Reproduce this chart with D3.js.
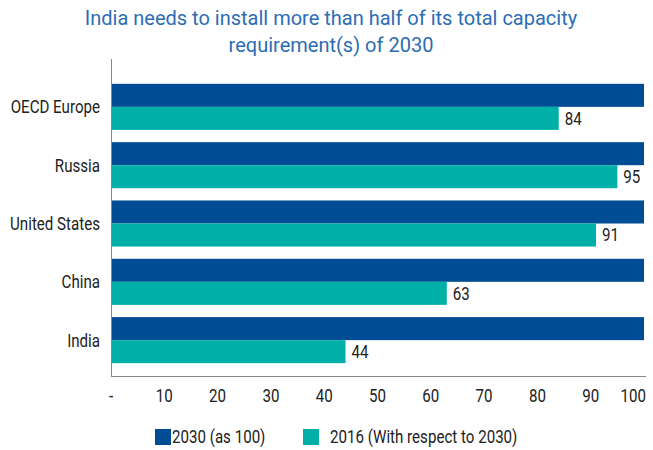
<!DOCTYPE html>
<html>
<head>
<meta charset="utf-8">
<script src="https://cdn.jsdelivr.net/npm/d3@7"></script>
<style>
  body { margin: 0; background: #fff; }
  text { font-family: "Roboto", "Liberation Sans", sans-serif; }
</style>
</head>
<body>
<script>
// Chart data
const regions = ["OECD Europe", "Russia", "United States", "China", "India"];
const values2030 = [100, 100, 100, 100, 100];
const values2016 = [84, 95, 91, 63, 44];
const xTicks = [0, 10, 20, 30, 40, 50, 60, 70, 80, 90, 100];
const seriesNames = ["2030 (as 100)", "2016 (With respect to 2030)"];
const colors = ["#004d95", "#00b0a8"];

const width = 653, height = 450;
// the original uses a condensed face, squeeze regular Roboto horizontally
const squeeze = 0.84;
const place = (px, py) => `translate(${px},${py}) scale(${squeeze},1)`;

const svg = d3.select("body")
      .append("svg")
      .attr("width", width)
      .attr("height", height);

// Title
svg.append("text")
    .attr("x", 331)
    .attr("y", 25)
    .attr("text-anchor", "middle")
    .style("font-size", "20px")
    .style("fill", "#2c6db4")
    .selectAll("tspan")
    .data(["India needs to install more than half of its total capacity", "requirement(s) of 2030"])
    .enter().append("tspan")
    .attr("x", 331)
    .attr("dy", (d, i) => i === 0 ? 0 : 27)
    .text(d => d);

// Scales
const x = d3.scaleLinear().domain([0, 100]).range([111, 644]);
const y = d3.scaleBand().domain(regions).range([78, 369])
      .paddingInner(0.21).paddingOuter(0.1);
const sub = d3.scaleBand().domain([0, 1]).range([0, y.bandwidth()]);

// Bars
const groups = svg.append("g").selectAll("g")
      .data(regions)
      .enter().append("g")
      .attr("transform", d => `translate(0,${y(d)})`);

groups.append("rect")
    .attr("x", x(0))
    .attr("y", sub(0))
    .attr("width", (d, i) => x(values2030[i]) - x(0))
    .attr("height", sub.bandwidth())
    .style("fill", colors[0]);

groups.append("rect")
    .attr("x", x(0))
    .attr("y", sub(1))
    .attr("width", (d, i) => x(values2016[i]) - x(0))
    .attr("height", sub.bandwidth())
    .style("fill", colors[1]);

// Value labels for 2016
groups.append("text")
    .attr("transform", (d, i) => place(x(values2016[i]) + 6, sub(1) + sub.bandwidth() / 2))
    .attr("dy", "0.36em")
    .style("font-size", "18px")
    .style("fill", "#222")
    .text((d, i) => values2016[i]);

// Category labels
svg.append("g").selectAll("text")
    .data(regions)
    .enter().append("text")
    .attr("transform", d => place(100, y(d) + y.bandwidth() / 2))
    .attr("dy", "0.36em")
    .attr("text-anchor", "end")
    .style("font-size", "18px")
    .style("fill", "#222")
    .text(d => d);

// Axis lines
svg.append("line")
    .attr("x1", x(0) + 0.5).attr("x2", x(0) + 0.5)
    .attr("y1", 59).attr("y2", 377)
    .style("stroke", "#888");
svg.append("line")
    .attr("x1", x(0)).attr("x2", 646)
    .attr("y1", 376.5).attr("y2", 376.5)
    .style("stroke", "#888");

// X tick labels
svg.append("g").selectAll("text")
    .data(xTicks)
    .enter().append("text")
    .attr("transform", d => place(d === 100 ? x(d) + 2 : x(d), 396))
    .attr("dy", "0.36em")
    .attr("text-anchor", d => d === 100 ? "end" : "middle")
    .style("font-size", "18px")
    .style("fill", "#222")
    .text(d => d === 0 ? "-" : d);

// Legend
const legendX = [155, 303];
const legend = svg.append("g").selectAll("g")
      .data(seriesNames)
      .enter().append("g")
      .attr("transform", (d, i) => `translate(${legendX[i]},429)`);

legend.append("rect")
    .attr("width", 16)
    .attr("height", 16)
    .style("fill", (d, i) => colors[i]);

legend.append("text")
    .attr("transform", (d, i) => place(i === 0 ? 17 : 27, 8))
    .attr("dy", "0.36em")
    .style("font-size", "18px")
    .style("fill", "#222")
    .text(d => d);
</script>
</body>
</html>
